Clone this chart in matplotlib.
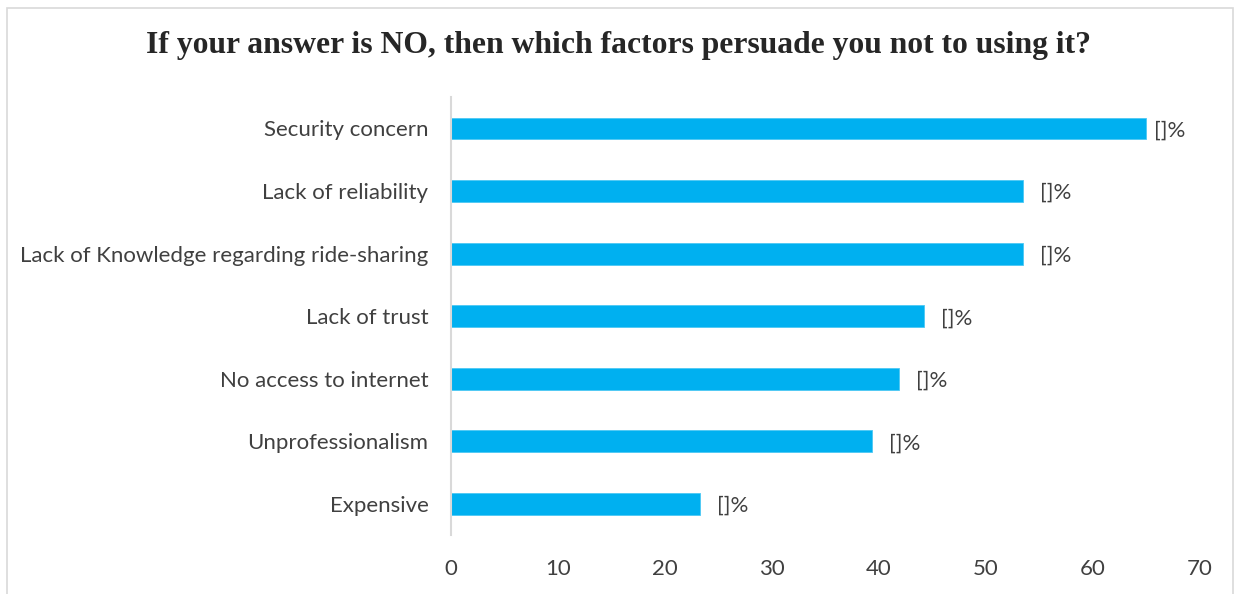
import matplotlib.pyplot as plt
from matplotlib.patches import Rectangle

# data
factors = [
    "Expensive",
    "Unprofessionalism",
    "No access to internet",
    "Lack of trust",
    "Lack of Knowledge regarding ride-sharing",
    "Lack of reliability",
    "Security concern",
]
percent = [23.3, 39.4, 41.9, 44.2, 53.5, 53.5, 65.0]
labels = ["[]%"] * len(factors)
xticks = [0, 10, 20, 30, 40, 50, 60, 70]

BAR = "#00B0F0"
TXT = "#404040"
FONT = "Lato"

fig = plt.figure(figsize=(12.37, 5.94), dpi=100)
fig.patches.append(Rectangle((7 / 1237, -0.05), 1226 / 1237, 1.05 - 8 / 594,
                             transform=fig.transFigure, fill=False,
                             edgecolor="#d9d9d9", linewidth=1.2))

ax = fig.add_axes([450.7 / 1237, 58.7 / 594, 749.3 / 1237, 438.1 / 594])
ypos = list(range(len(factors)))
ax.barh(ypos, percent, height=0.35, color=BAR, edgecolor="#4cc8f4", linewidth=0.6)

for y, v, lab in zip(ypos, percent, labels):
    pad = 8 if v > 60 else 17
    ax.annotate(lab, (v, y), xytext=(pad, -2), textcoords="offset pixels",
                ha="left", va="center", fontsize=16, color=TXT, family=FONT)

ax.set_xlim(0, 70)
ax.set_ylim(-0.5, len(factors) - 0.5)
ax.set_xticks(xticks)
ax.set_yticks(ypos)
ax.set_yticklabels(factors)
ax.tick_params(axis="both", length=0, labelsize=16, labelcolor=TXT)
ax.tick_params(axis="y", pad=16)
ax.tick_params(axis="x", pad=17)
for t in ax.get_xticklabels() + ax.get_yticklabels():
    t.set_family(FONT)

for s in ["top", "right", "bottom"]:
    ax.spines[s].set_visible(False)
ax.spines["left"].set_color("#d9d9d9")
ax.spines["left"].set_linewidth(1.5)

fig.text(618.5 / 1237, 1 - 46 / 594, "If your answer is NO, then which factors persuade you not to using it?",
         ha="center", va="center", fontsize=22.8, fontweight="bold",
         family="Liberation Serif", color="#262626")

fig.savefig("out.png", dpi=100)
